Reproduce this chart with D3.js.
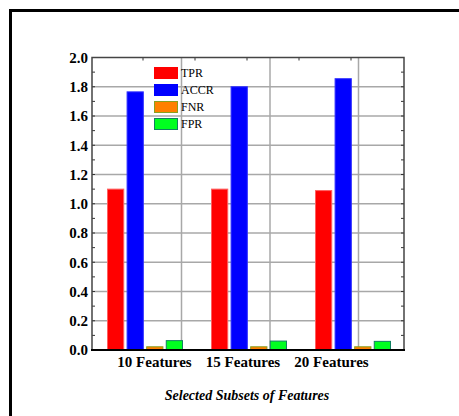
<!DOCTYPE html>
<html>
<head>
<meta charset="utf-8">
<script src="https://cdn.jsdelivr.net/npm/d3@7"></script>
<style>
  html, body { margin: 0; padding: 0; background: #fff; }
  svg { display: block; }
</style>
</head>
<body>
<svg id="chart" width="459" height="416"></svg>
<script>
// Feature subsets and the metric series for each one
const categories = ["10 Features", "15 Features", "20 Features"];
const seriesNames = ["TPR", "ACCR", "FNR", "FPR"];
const tprValues  = [1.10, 1.10, 1.09];
const accrValues = [1.765, 1.80, 1.855];
const fnrValues  = [0.022, 0.022, 0.022];
const fprValues  = [0.064, 0.061, 0.059];
const yTicks = [0.0, 0.2, 0.4, 0.6, 0.8, 1.0, 1.2, 1.4, 1.6, 1.8, 2.0];

const seriesValues = [tprValues, accrValues, fnrValues, fprValues];
const fills   = ["#ff0000", "#0000ff", "#ff8000", "#00ff20"];
const strokes = ["#ff6060", "#3030ff", "#88a020", "#108060"];

const svg = d3.select("#chart");
const serif = "'Liberation Serif', 'Times New Roman', serif";

// outer panel frame (top and left edges)
svg.append("path")
  .attr("d", "M10.5,416 L10.5,10.5 L459,10.5")
  .attr("fill", "none").attr("stroke", "#000").attr("stroke-width", 3);

const plot = { left: 92, right: 404, top: 57.5, bottom: 350 };

const y = d3.scaleLinear().domain([0, 2]).range([plot.bottom, plot.top]);

// groups placed along a band scale, bars inside each group
const x0 = d3.scaleBand().domain(categories)
  .range([55, 407]).paddingInner(0.0).paddingOuter(0);
const x1 = d3.scaleBand().domain(seriesNames)
  .range([0, 76]).paddingInner(0.12);
// label / gridline positions along the category axis
const xl = d3.scalePoint().domain(categories).range([154, 331]);

const g = svg.append("g");

// horizontal grid
g.selectAll("line.hgrid").data(yTicks.slice(1, -1)).join("line")
  .attr("x1", plot.left).attr("x2", plot.right)
  .attr("y1", d => y(d)).attr("y2", d => y(d))
  .attr("stroke", "#a8a8a8").attr("stroke-width", 1.5);

// vertical grid
g.selectAll("line.vgrid").data(categories).join("line")
  .attr("x1", d => xl(d) + 27.5).attr("x2", d => xl(d) + 27.5)
  .attr("y1", plot.top).attr("y2", plot.bottom)
  .attr("stroke", "#a8a8a8").attr("stroke-width", 1.5);

// bars
const rows = [];
categories.forEach((c, i) => {
  seriesNames.forEach((s, j) => rows.push({ cat: c, s, j, v: seriesValues[j][i] }));
});
const groupStart = c => 107 + categories.indexOf(c) * 104;
g.selectAll("rect.bar").data(rows).join("rect")
  .attr("x", d => groupStart(d.cat) + x1(d.s) + 0.5)
  .attr("y", d => y(d.v))
  .attr("width", x1.bandwidth() - 1)
  .attr("height", d => y(0) - y(d.v))
  .attr("fill", d => fills[d.j])
  .attr("stroke", d => strokes[d.j])
  .attr("stroke-width", 1);

// left axis
const leftAxis = d3.axisLeft(y).tickValues(yTicks).tickSize(0).tickPadding(4)
  .tickFormat(d3.format(".1f"));
const la = svg.append("g").attr("transform", `translate(${plot.left},0)`).call(leftAxis);
la.select(".domain").remove();
la.selectAll("text")
  .attr("font-family", serif).attr("font-weight", "bold")
  .attr("font-size", 15).attr("fill", "#000");

// minor inward ticks on left and right
const minor = d3.range(0.1, 2.0, 0.1);
svg.selectAll("line.lminor").data(minor).join("line")
  .attr("x1", plot.left).attr("x2", plot.left + 3)
  .attr("y1", d => y(d)).attr("y2", d => y(d))
  .attr("stroke", "#333").attr("stroke-width", 1);
svg.selectAll("line.rminor").data(minor).join("line")
  .attr("x1", plot.right).attr("x2", plot.right - 3)
  .attr("y1", d => y(d)).attr("y2", d => y(d))
  .attr("stroke", "#333").attr("stroke-width", 1);

// top minor ticks
const topTicks = [143, 195, 247, 299, 351];
svg.selectAll("line.tminor").data(topTicks).join("line")
  .attr("x1", d => d).attr("x2", d => d)
  .attr("y1", plot.top).attr("y2", plot.top + 3)
  .attr("stroke", "#333").attr("stroke-width", 1);

// frame of the plot
svg.append("path")
  .attr("d", `M${plot.left},${plot.bottom} L${plot.left},${plot.top} L${plot.right},${plot.top} L${plot.right},${plot.bottom}`)
  .attr("fill", "none").attr("stroke", "#444").attr("stroke-width", 1.5);
svg.append("line")
  .attr("x1", plot.left - 1).attr("x2", plot.right + 1)
  .attr("y1", plot.bottom).attr("y2", plot.bottom)
  .attr("stroke", "#000").attr("stroke-width", 2);

// category labels
const bottomAxis = d3.axisBottom(xl).tickSize(0).tickPadding(6);
const ba = svg.append("g").attr("transform", `translate(0,${plot.bottom})`).call(bottomAxis);
ba.select(".domain").remove();
ba.selectAll("text")
  .attr("font-family", serif).attr("font-weight", "bold")
  .attr("font-size", 15).attr("fill", "#000");

// axis title
svg.append("text")
  .attr("x", 247).attr("y", 400)
  .attr("text-anchor", "middle")
  .attr("font-family", serif).attr("font-weight", "bold").attr("font-style", "italic")
  .attr("font-size", 14).attr("fill", "#000")
  .text("Selected Subsets of Features");

// legend
const legend = svg.append("g").attr("transform", "translate(154,67)");
seriesNames.forEach((s, j) => {
  const row = legend.append("g").attr("transform", `translate(0,${j * 17})`);
  row.append("rect").attr("x", 0.5).attr("y", 0.5).attr("width", 23).attr("height", 11)
    .attr("fill", fills[j]).attr("stroke", j >= 2 ? strokes[j] : fills[j]).attr("stroke-width", 1);
  row.append("text").attr("x", 27).attr("y", 10)
    .attr("font-family", serif).attr("font-size", 12).attr("fill", "#000")
    .text(s);
});
</script>
</body>
</html>
